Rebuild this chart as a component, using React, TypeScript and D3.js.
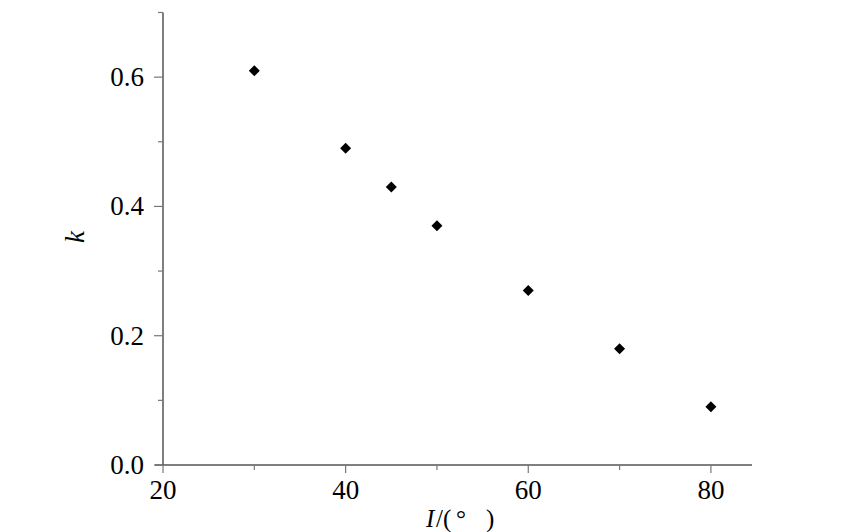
import React from "react";
import * as d3 from "d3";

const angles = [30, 40, 45, 50, 60, 70, 80];
const kValues = [0.61, 0.49, 0.43, 0.37, 0.27, 0.18, 0.09];
const xMajorTicks = [20, 40, 60, 80];
const xMinorTicks = [30, 50, 70];
const yMajorTicks = [0.0, 0.2, 0.4, 0.6];
const yMinorTicks = [0.1, 0.3, 0.5, 0.7];

const W = 850;
const H = 532;

export default function App() {
  const x = d3.scaleLinear().domain([20, 84.5]).range([163, 752]);
  const y = d3.scaleLinear().domain([0, 0.7]).range([465, 12.5]);
  const font = "'Liberation Serif', 'Times New Roman', serif";
  const axisColor = "#555";
  const tickColor = "#777";
  const r = 5.5;
  const diamond = `M0,${-r}L${r},0L0,${r}L${-r},0Z`;

  return (
    <svg width={W} height={H} style={{ position: "absolute", left: 0, top: 0, background: "#fff" }}>
      <rect x={0} y={0} width={W} height={H} fill="#fff" />
      {/* axes */}
      <line x1={x(20)} x2={x(20)} y1={y(0.7)} y2={y(0)} stroke={axisColor} strokeWidth={1.5} />
      <line x1={x(20) - 8} x2={x(84.5)} y1={y(0)} y2={y(0)} stroke={axisColor} strokeWidth={1.5} />
      {/* y ticks */}
      {yMajorTicks.map((t) => (
        <g key={"ym" + t}>
          <line x1={x(20) - 9} x2={x(20)} y1={y(t)} y2={y(t)} stroke={tickColor} strokeWidth={1.2} />
          <text x={144} y={y(t) + 9} textAnchor="end" fontFamily={font} fontSize={27} fill="#000">
            {d3.format(".1f")(t)}
          </text>
        </g>
      ))}
      {yMinorTicks.map((t) => (
        <line key={"yn" + t} x1={x(20) - 5} x2={x(20)} y1={y(t)} y2={y(t)} stroke={tickColor} strokeWidth={1.2} />
      ))}
      {/* x ticks */}
      {xMajorTicks.map((t) => (
        <g key={"xm" + t}>
          <line x1={x(t)} x2={x(t)} y1={y(0)} y2={y(0) + 8} stroke={tickColor} strokeWidth={1.2} />
          <text x={x(t)} y={499} textAnchor="middle" fontFamily={font} fontSize={27} fill="#000">
            {t}
          </text>
        </g>
      ))}
      {xMinorTicks.map((t) => (
        <line key={"xn" + t} x1={x(t)} x2={x(t)} y1={y(0)} y2={y(0) + 5} stroke={tickColor} strokeWidth={1.2} />
      ))}
      {/* axis labels */}
      <text y={527} fontFamily={font} fontSize={25} fill="#000">
        <tspan x={426} fontStyle="italic">I</tspan>
        <tspan x={436}>/</tspan>
        <tspan x={443}>(</tspan>
        <tspan x={456}>°</tspan>
        <tspan x={486}>)</tspan>
      </text>
      <text
        transform={`translate(84, 237) rotate(-90)`}
        textAnchor="middle"
        fontFamily={font}
        fontSize={27}
        fontStyle="italic"
        fill="#000"
      >
        k
      </text>
      {/* points */}
      {angles.map((a, i) => (
        <path key={"p" + i} d={diamond} transform={`translate(${x(a)}, ${y(kValues[i])})`} fill="#000" />
      ))}
    </svg>
  );
}
